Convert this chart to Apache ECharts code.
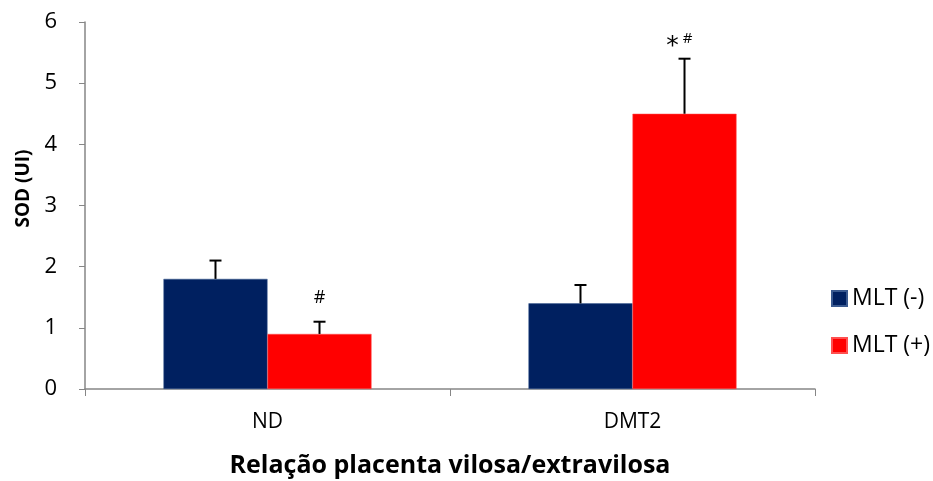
<!DOCTYPE html>
<html>
<head>
<meta charset="utf-8">
<script src="https://cdn.jsdelivr.net/npm/echarts@6/dist/echarts.min.js"></script>
<style>
  html, body { margin: 0; padding: 0; background: #fff; }
  #chart { width: 933px; height: 481px; }
</style>
</head>
<body>
<div id="chart"></div>
<script>
// Groups on the x axis
const categories = ['ND', 'DMT2'];
// Mean SOD values per group
const mltNeg = [1.8, 1.4];
const mltPos = [0.9, 4.5];
// Upper end of the error bars
const mltNegUpper = [2.1, 1.7];
const mltPosUpper = [1.1, 5.4];
// Significance marks drawn above the error bars
const mltNegMarks = ['', ''];
const mltPosMarks = ['#', '*#'];
const yTicks = [0, 1, 2, 3, 4, 5, 6];

const FONT = '"Open Sans", "Noto Sans", sans-serif';
const BAR_FRACTION = 0.285;
const NAVY = '#002060';
const RED = '#FF0000';

function errorSeries(name, values, uppers, marks, side) {
  return {
    type: 'custom',
    name: name + ' err',
    silent: true,
    z: 5,
    data: values.map((v, i) => [i, v, uppers[i]]),
    renderItem: function (params, api) {
      const idx = api.value(0);
      const bandW = api.size([1, 0])[0];
      const shift = side * bandW * BAR_FRACTION / 2;
      const top = api.coord([idx, api.value(1)]);
      const up = api.coord([idx, api.value(2)]);
      const x = top[0] + shift;
      const cap = 6;
      const children = [
        { type: 'line', shape: { x1: x, y1: top[1], x2: x, y2: up[1] },
          style: { stroke: '#000', lineWidth: 2 } },
        { type: 'line', shape: { x1: x - cap, y1: up[1], x2: x + cap, y2: up[1] },
          style: { stroke: '#000', lineWidth: 2 } }
      ];
      const mark = marks[params.dataIndex];
      if (mark === '#') {
        children.push({ type: 'text', x: x, y: up[1] - 24,
          style: { text: '#', fill: '#000', font: '18px ' + FONT, align: 'center', verticalAlign: 'middle' } });
      } else if (mark === '*#') {
        children.push({ type: 'text', x: x - 12, y: up[1] - 12,
          style: { text: '*', fill: '#000', font: '25px "DejaVu Sans", sans-serif', align: 'center', verticalAlign: 'middle' } });
        children.push({ type: 'text', x: x + 3, y: up[1] - 20,
          style: { text: '#', fill: '#000', font: '15px ' + FONT, align: 'center', verticalAlign: 'middle' } });
      }
      return { type: 'group', children: children };
    }
  };
}

const chart = echarts.init(document.getElementById('chart'));
chart.setOption({
  animation: false,
  backgroundColor: '#fff',
  grid: { left: 85, right: 118, top: 22, bottom: 92, containLabel: false, outerBoundsMode: 'none' },
  legend: {
    orient: 'vertical',
    left: 826,
    top: 282,
    itemWidth: 15,
    itemHeight: 15,
    itemGap: 24,
    icon: 'rect',
    data: ['MLT (-)', 'MLT (+)'],
    textStyle: { fontSize: 23, fontFamily: FONT, color: '#000' }
  },
  xAxis: {
    type: 'category',
    data: categories,
    name: 'Relação placenta vilosa/extravilosa',
    nameLocation: 'middle',
    nameGap: 64,
    nameTextStyle: { fontSize: 25, fontWeight: 'bold', fontFamily: FONT, color: '#000' },
    axisLine: { lineStyle: { color: '#868686', width: 1.5 } },
    axisTick: { show: true, length: 7, lineStyle: { color: '#868686' } },
    axisLabel: { fontSize: 21, fontFamily: FONT, color: '#000', margin: 23 }
  },
  yAxis: {
    type: 'value',
    min: yTicks[0],
    max: yTicks[yTicks.length - 1],
    interval: 1,
    name: 'SOD (UI)',
    nameLocation: 'middle',
    nameGap: 52,
    nameTextStyle: { fontSize: 19, fontWeight: 'bold', fontFamily: FONT, color: '#000', padding: [0, 0, 0, 34] },
    axisLine: { show: true, lineStyle: { color: '#868686', width: 1.5 } },
    axisTick: { show: true, length: 6, lineStyle: { color: '#868686' } },
    splitLine: { show: false },
    axisLabel: { fontSize: 22, fontFamily: FONT, color: '#000', margin: 28 }
  },
  series: [
    { type: 'bar', name: 'MLT (-)', data: mltNeg, barWidth: (BAR_FRACTION * 100) + '%', barGap: '0%',
      itemStyle: { color: NAVY, borderColor: '#3a5a90', borderWidth: 0.5 } },
    { type: 'bar', name: 'MLT (+)', data: mltPos, barWidth: (BAR_FRACTION * 100) + '%', barGap: '0%',
      itemStyle: { color: RED, borderColor: '#ff5050', borderWidth: 0.5 } },
    errorSeries('MLT (-)', mltNeg, mltNegUpper, mltNegMarks, -1),
    errorSeries('MLT (+)', mltPos, mltPosUpper, mltPosMarks, 1)
  ]
});
</script>
</body>
</html>
